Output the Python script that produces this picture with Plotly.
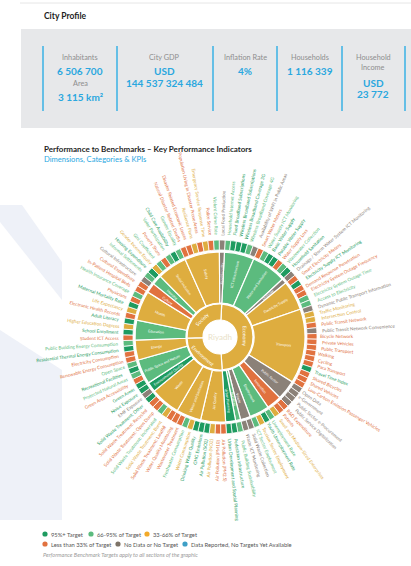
import math
import plotly.graph_objects as go

W, H = 411, 566
CX, CY = 220, 337          # chart centre in page pixels
FONT = "Lato"

# ---------------- data ----------------
dimension_names = ["Economy", "Environment", "Society"]
center_label = "Riyadh"

category_names = [
    "ICT Infrastructure", "Water and Sanitation", "Drainage", "Electricity Supply", "Transport",
    "Public Sector", "Innovation", "Employment", "Waste", "Buildings", "Urban Planning",
    "Air Quality", "Water and Sanitation", "Waste", "Environmental Quality", "Public Space and Nature", "Energy",
    "Education", "Health", "Culture", "Housing", "Social Inclusion", "Safety", "Food Security",
]
category_dimension = ["Economy"] * 11 + ["Environment"] * 6 + ["Society"] * 7
category_status = ["L", "L", "N", "Y", "Y", "N", "O", "L", "N", "L", "G",
                   "Y", "Y", "Y", "G", "L", "Y",
                   "L", "Y", "O", "L", "Y", "Y", "N"]

kpi_names = [
    # ICT Infrastructure
    "Household Internet Access", "Fixed Broadband Subscriptions", "Wireless Broadband Subscriptions",
    "Wireless Broadband Coverage 3G", "Wireless Broadband Coverage 4G", "Availability of WIFI in Public Areas",
    # Water and Sanitation
    "Smart Water Meters", "Water Supply ICT Monitoring", "Basic Water Supply", "Potable Water Supply",
    "Water Supply Loss", "Wastewater Collection", "Household Sanitation",
    # Drainage
    "Drainage / Storm Water System ICT Monitoring",
    # Electricity Supply
    "Smart Electricity Meters", "Electricity Supply ICT Monitoring", "Demand Response Penetration",
    "Electricity System Outage Frequency", "Electricity System Outage Time", "Access to Electricity",
    # Transport
    "Dynamic Public Transport Information", "Traffic Monitoring", "Intersection Control", "Public Transit Network",
    "Public Transit Network Convenience", "Bicycle Network", "Private Vehicles", "Public Transport", "Walking",
    "Cycling", "Para Transport", "Travel Time Index", "Shared Bicycles", "Shared Vehicles",
    "Low-Carbon Emission Passenger Vehicles",
    # Public Sector
    "Open Data", "e-Government", "Public Sector e-Procurement", "Public Service Digitalization",
    # Innovation
    "R&D Expenditure", "Patents", "Small and Medium-Sized Enterprises",
    # Employment
    "Unemployment Rate", "Youth Unemployment Rate", "Tourism Sector Employment", "ICT Sector Employment",
    # Waste
    "Solid Waste Collection", "Waste ICT Monitoring",
    # Buildings
    "Public Building Sustainability",
    # Urban Planning
    "Pedestrian Infrastructure", "Urban Development and Spatial Planning",
    # Air Quality
    "Air Pollution (PM2.5)", "Air Pollution (PM10)", "Air Pollution (NO2)", "Air Pollution (SO2)", "GHG Emissions",
    # Water and Sanitation (env)
    "Drinking Water Quality", "Water Consumption", "Freshwater Consumption", "Wastewater Treatment",
    "Water Quality Monitoring",
    # Waste (env)
    "Solid Waste Treatment: Landfill", "Solid Waste Treatment: Burnt", "Solid Waste Treatment: Incinerated",
    "Solid Waste Treatment: Open Dump", "Solid Waste Treatment: Recycled", "Solid Waste Treatment: Other",
    # Environmental Quality
    "EMF Exposure", "Noise Exposure",
    # Public Space and Nature
    "Green Areas", "Green Area Accessibility", "Protected Natural Areas", "Recreational Facilities", "Open Space",
    # Energy
    "Renewable Energy Consumption", "Electricity Consumption", "Residential Thermal Energy Consumption",
    "Public Building Energy Consumption",
    # Education
    "Student ICT Access", "School Enrollment", "Higher Education Degrees", "Adult Literacy",
    # Health
    "Electronic Health Records", "Life Expectancy", "Maternal Mortality Rate", "Physicians",
    "Health Insurance Coverage", "In-Patient Hospital Beds",
    # Culture
    "Cultural Expenditure", "Cultural Infrastructure",
    # Housing
    "Informal Settlements", "Housing Expenditure",
    # Social Inclusion
    "Gender Income Equity", "Gini Coefficient", "Poverty Share", "Voter Participation",
    "Child Care Availability", "Gender Equality",
    # Safety
    "Natural Disaster Related Deaths", "Disaster Related Economic Losses", "Resilience Plans",
    "Population Living in Disaster Prone Areas", "Emergency Service Response Time", "Police Service",
    "Violent Crime Rate",
    # Food Security
    "Local Food Production",
]
kpi_counts = [6, 7, 1, 6, 15, 4, 3, 4, 2, 1, 2,
              5, 5, 6, 2, 5, 4,
              4, 6, 2, 2, 6, 7, 1]
kpi_status = (
    ["L", "G", "G", "G", "L", "N"] +
    ["O", "L", "G", "G", "O", "L", "G"] +
    ["N"] +
    ["O", "G", "O", "O", "L", "L"] +
    ["N", "Y", "Y", "O", "N", "O", "O", "O", "O", "O", "O", "G", "O", "O", "O"] +
    ["N", "N", "N", "N"] +
    ["O", "O", "Y"] +
    ["L", "G", "Y", "L"] +
    ["N", "N"] +
    ["L"] +
    ["G", "G"] +
    ["O", "O", "Y", "G", "G"] +
    ["G", "Y", "L", "O", "O"] +
    ["O", "Y", "L", "O", "O", "G"] +
    ["N", "G"] +
    ["G", "O", "L", "G", "L"] +
    ["O", "O", "G", "L"] +
    ["O", "G", "Y", "G"] +
    ["O", "Y", "G", "O", "L", "O"] +
    ["O", "N"] +
    ["L", "G"] +
    ["Y", "L", "O", "L", "G", "L"] +
    ["O", "O", "Y", "O", "Y", "O", "L"] +
    ["N"]
)

status_colors = {"G": "#1E9B60", "L": "#5CBB7E", "Y": "#DEAD3F", "O": "#E1723F", "N": "#8B8178", "B": "#3E9FC6"}
legend_labels = [("G", "95%+ Target"), ("L", "66-95% of Target"), ("Y2", "33-66% of Target"),
                 ("O", "Less than 33% of Target"), ("N", "No Data or No Target"),
                 ("B", "Data Reported, No Targets Yet Available")]
legend_dot_colors = {"G": "#1E9B60", "L": "#5CBB7E", "Y2": "#F2AA2A", "O": "#E1723F", "N": "#7D7368", "B": "#3E9FC6"}

profile_cols = [
    ["Inhabitants", "6 506 700", "Area", "3 115 km²"],
    ["City GDP", "USD", "144 537 324 484"],
    ["Inflation Rate", "4%"],
    ["Households", "1 116 339"],
    ["Household", "Income", "USD", "23 772"],
]
profile_is_value = [
    [False, True, False, True],
    [False, True, True],
    [False, True],
    [False, True],
    [False, False, True, True],
]

# ---------------- geometry ----------------
START = 3.0
N = len(kpi_names)
step = 360.0 / N
R_HOLE, R_DIM, R_CAT0, R_CAT, R_KPI0, R_KPI = 17, 33, 34, 85, 87, 97

def px(x):
    return x / W

def py(y):
    return 1 - y / H

kpi_theta = [START + (i + 0.5) * step for i in range(N)]

cat_start, cat_width = [], []
pos = 0
for c in kpi_counts:
    cat_start.append(START + pos * step)
    cat_width.append(c * step)
    pos += c
cat_theta = [s + w / 2 for s, w in zip(cat_start, cat_width)]

dim_theta, dim_width = [], []
for d in dimension_names:
    idx = [i for i, cd in enumerate(category_dimension) if cd == d]
    s = cat_start[idx[0]]
    e = cat_start[idx[-1]] + cat_width[idx[-1]]
    dim_theta.append((s + e) / 2)
    dim_width.append(e - s)

fig = go.Figure()
fig.add_trace(go.Barpolar(theta=dim_theta, width=dim_width, base=[R_HOLE] * 3, r=[R_DIM - R_HOLE] * 3,
                          marker=dict(color=status_colors["Y"], line=dict(color="white", width=1.2)),
                          hoverinfo="skip", showlegend=False))
fig.add_trace(go.Barpolar(theta=cat_theta, width=cat_width, base=[R_CAT0] * len(cat_theta),
                          r=[R_CAT - R_CAT0] * len(cat_theta),
                          marker=dict(color=[status_colors[s] for s in category_status],
                                      line=dict(color="white", width=1.2)),
                          hoverinfo="skip", showlegend=False))
fig.add_trace(go.Barpolar(theta=kpi_theta, width=[step] * N, base=[R_KPI0] * N, r=[R_KPI - R_KPI0] * N,
                          marker=dict(color=[status_colors[s] for s in kpi_status],
                                      line=dict(color="white", width=0.8)),
                          hoverinfo="skip", showlegend=False))

ann = []

def polar_xy(theta, r):
    a = math.radians(theta)
    return CX + r * math.sin(a), CY - r * math.cos(a)

def radial_angle(theta):
    t = theta % 360
    return t - 90 if t < 180 else t - 270

def tangential_angle(theta):
    t = theta % 360
    if t <= 90:
        return t
    if t >= 270:
        return t - 360
    return t - 180

# KPI labels outside the ring
FS = 4.6
for name, th, st in zip(kpi_names, kpi_theta, kpi_status):
    L = len(name) * 0.5 * FS
    x, y = polar_xy(th, R_KPI + 3 + L / 2)
    ann.append(dict(x=px(x), y=py(y), xref="paper", yref="paper", text=name, showarrow=False,
                    textangle=radial_angle(th), xanchor="center", yanchor="middle",
                    font=dict(size=FS, color=status_colors[st], family=FONT)))

# category labels
for name, th in zip(category_names, cat_theta):
    x, y = polar_xy(th, 64)
    ann.append(dict(x=px(x), y=py(y), xref="paper", yref="paper", text=name, showarrow=False,
                    textangle=radial_angle(th), xanchor="center", yanchor="middle",
                    font=dict(size=3.6, color="white", family=FONT)))

# dimension labels
for name, th in zip(dimension_names, dim_theta):
    x, y = polar_xy(th, (R_HOLE + R_DIM) / 2)
    ann.append(dict(x=px(x), y=py(y), xref="paper", yref="paper", text=name, showarrow=False,
                    textangle=tangential_angle(th), xanchor="center", yanchor="middle",
                    font=dict(size=5, color="white", family=FONT)))

ann.append(dict(x=px(CX), y=py(CY), xref="paper", yref="paper", text=center_label, showarrow=False,
                font=dict(size=8, color="#E9DFC8", family=FONT)))

# header
ann.append(dict(x=px(42), y=py(16), xref="paper", yref="paper", text="<b>City Profile</b>", showarrow=False,
                xanchor="left", yanchor="middle", font=dict(size=8.5, color="#1E1E1E", family=FONT)))
col_x = [80, 164, 245, 310, 373]
row_y = {
    0: [57, 71, 84, 97],
    1: [57, 71, 83],
    2: [57, 71],
    3: [57, 71],
    4: [57, 68, 83, 94],
}
for ci, (texts, flags) in enumerate(zip(profile_cols, profile_is_value)):
    for ri, (t, v) in enumerate(zip(texts, flags)):
        ann.append(dict(x=px(col_x[ci]), y=py(row_y[ci][ri]), xref="paper", yref="paper",
                        text=f"<b>{t}</b>" if v else t, showarrow=False, xanchor="center", yanchor="middle",
                        font=dict(size=10 if v else 7.3, color="#2AA7DF" if v else "#8E8E8E", family=FONT)))

ann.append(dict(x=px(42), y=py(149), xref="paper", yref="paper",
                text="<b>Performance to Benchmarks – Key Performance Indicators</b>", showarrow=False,
                xanchor="left", yanchor="middle", font=dict(size=8, color="#1E1E1E", family=FONT)))
ann.append(dict(x=px(42), y=py(159), xref="paper", yref="paper",
                text="Dimensions, Categories & KPIs", showarrow=False,
                xanchor="left", yanchor="middle", font=dict(size=7.6, color="#2AA7DF", family=FONT)))

# legend
shapes = []
leg_pos = [(45, 534), (91, 534), (147, 534), (45, 544), (118, 544), (185, 544)]
for (key, lab), (lx, ly) in zip(legend_labels, leg_pos):
    shapes.append(dict(type="circle", xref="paper", yref="paper", x0=px(lx - 2.6), x1=px(lx + 2.6),
                       y0=py(ly + 2.6), y1=py(ly - 2.6), fillcolor=legend_dot_colors[key], line=dict(width=0)))
    ann.append(dict(x=px(lx + 4), y=py(ly), xref="paper", yref="paper", text=lab, showarrow=False,
                    xanchor="left", yanchor="middle", font=dict(size=5.8, color="#555555", family=FONT)))
ann.append(dict(x=px(41), y=py(554), xref="paper", yref="paper",
                text="<i>Performance Benchmark Targets apply to all sections of the graphic</i>", showarrow=False,
                xanchor="left", yanchor="middle", font=dict(size=5.6, color="#9A9A9A", family=FONT)))

# background shapes
shapes.insert(0, dict(type="line", xref="paper", yref="paper", x0=px(20), x1=1, y0=py(3), y1=py(3),
                      line=dict(color="#E6E6E6", width=1)))
shapes.insert(0, dict(type="rect", xref="paper", yref="paper", x0=px(21), x1=1, y0=py(128), y1=py(29),
                      fillcolor="#E7E8EA", line=dict(width=0), layer="below"))
for sx in [43, 117, 213, 277, 342, 405]:
    shapes.append(dict(type="line", xref="paper", yref="paper", x0=px(sx), x1=px(sx), y0=py(46), y1=py(111),
                       line=dict(color="#45B4E5", width=1.6)))
chev = [(0, 205), (22, 205), (62, 262), (62, 300), (0, 222)]
chev2 = [(0, 330), (62, 370), (62, 520), (0, 520)]
for poly in (chev, chev2):
    path = "M " + " L ".join(f"{px(a)},{py(b)}" for a, b in poly) + " Z"
    shapes.insert(0, dict(type="path", xref="paper", yref="paper", path=path, fillcolor="#EEF1F8",
                          line=dict(width=0), layer="below"))

R_PIX = 100
fig.update_layout(
    width=W, height=H, margin=dict(l=0, r=0, t=0, b=0),
    paper_bgcolor="white", plot_bgcolor="white",
    polar=dict(domain=dict(x=[px(CX - R_PIX), px(CX + R_PIX)], y=[py(CY + R_PIX), py(CY - R_PIX)]),
               bgcolor="rgba(0,0,0,0)",
               radialaxis=dict(range=[0, R_PIX], visible=False),
               angularaxis=dict(visible=False, direction="clockwise", rotation=90)),
    annotations=ann, shapes=shapes, showlegend=False,
)
fig.write_html("out.html")
